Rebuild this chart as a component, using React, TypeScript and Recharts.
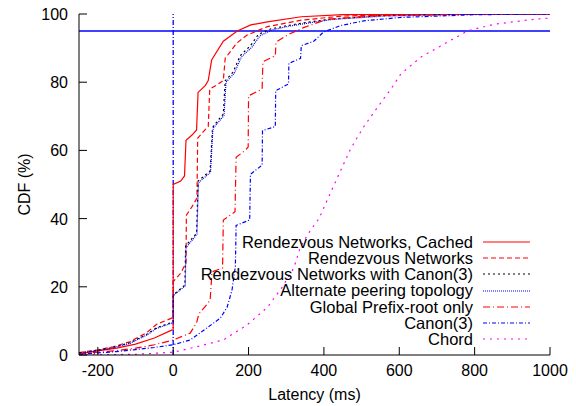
import React from 'react';
import {LineChart, Line, XAxis, YAxis, ReferenceLine, Legend} from 'recharts';

// [latency ms, CDF %]
const cachedPts = [
  [-250, 0.3], [-200, 1.2], [-150, 2], [-100, 3.2], [-50, 5], [-10, 7], [0, 7.5], [0, 50],
  [20, 51], [30, 52.5], [34, 63], [50, 64.5], [62, 66], [66, 77], [85, 79], [93, 80.5], [102, 86.5],
  [133, 92], [170, 95], [206, 96.8], [250, 97.7], [340, 99.2], [450, 99.8], [1000, 100],
];
const rendezvousPts = [
  [-250, 0.7], [-200, 1.5], [-160, 2.4], [-115, 3.9], [-71, 6.5], [-44, 9], [0, 11], [0, 21.5],
  [20, 24], [34, 27], [35, 41], [50, 43.5], [63, 46], [65, 63.6], [80, 65.5], [93, 67], [97, 78],
  [120, 79.5], [133, 80.5], [138, 87], [169, 91.5], [196, 93.8], [250, 96.3], [340, 98.2],
  [450, 99.4], [600, 99.8], [1000, 100],
];
const withCanonPts = [
  [-250, 0.6], [-200, 1.4], [-160, 2.2], [-115, 3.6], [-71, 6], [-44, 8], [0, 9.7], [0, 17.6],
  [31, 20.5], [33, 32], [62, 35.7], [66, 51], [98, 54], [104, 66], [106, 67], [133, 70.7],
  [138, 80.4], [159, 83], [178, 87.8], [205, 90.7], [226, 94], [258, 95.6], [302, 96.6],
  [364, 97.7], [418, 98.5], [550, 99.5], [800, 100], [1000, 100],
];
const alternatePts = [
  [-250, 0.5], [-200, 1.3], [-160, 2.1], [-115, 3.4], [-71, 5.8], [-44, 7.8], [0, 9.5], [0, 17.4],
  [32, 20.3], [34, 31.5], [63, 35.4], [67, 50.5], [99, 53.6], [105, 65.6], [107, 66.6], [135, 70.3],
  [140, 80], [162, 82.6], [181, 87.4], [209, 90.3], [230, 93.6], [262, 95.3], [306, 96.4],
  [368, 97.5], [422, 98.4], [560, 99.4], [820, 100], [1000, 100],
];
const prefixRootPts = [
  [-250, 0.3], [-200, 0.8], [-150, 1.3], [-100, 2], [-50, 3], [0, 4.4], [45, 6.4], [62, 9.4],
  [68, 12], [98, 16], [103, 24.4], [131, 25.5], [133, 39.6], [164, 42], [167, 58], [191, 60],
  [199, 61], [200, 76], [236, 78], [238, 86], [271, 87.8], [273, 91.8], [306, 94], [346, 96],
  [409, 98.5], [550, 99.6], [800, 100], [1000, 100],
];
const canonPts = [
  [-250, 0.2], [-200, 0.6], [-150, 1], [-100, 1.6], [-50, 2.2], [0, 3], [45, 4.4], [89, 7.9],
  [125, 10.8], [143, 14], [156, 19], [165, 26], [167, 38], [203, 39.6], [205, 53], [236, 55.7],
  [237, 65.8], [271, 67], [272, 77.5], [306, 79.5], [307, 85.5], [338, 87], [340, 90.7],
  [373, 92], [399, 94.7], [444, 96.6], [506, 98], [605, 99], [800, 99.8], [1000, 100],
];
const chordPts = [
  [-250, 0], [-100, 0.2], [0, 0.8], [62, 2.4], [133, 4.4], [196, 8.8], [250, 14], [290, 20],
  [320, 25.5], [338, 31.8], [365, 36.7], [387, 40], [409, 45.5], [444, 54], [471, 60.5],
  [506, 67], [551, 74], [578, 78], [604, 82.4], [658, 87.4], [711, 90.7], [782, 95.1],
  [853, 97], [960, 98.5], [1000, 98.8],
];

const xTicks = [-200, 0, 200, 400, 600, 800, 1000];
const yTicks = [0, 20, 40, 60, 80, 100];

const toRows = (pts: number[][]) => pts.map(([lat, cdf]) => ({lat, cdf}));

const series = [
  {name: 'Rendezvous Networks, Cached', pts: cachedPts, color: '#ff0000', dash: undefined},
  {name: 'Rendezvous Networks', pts: rendezvousPts, color: '#ff0000', dash: '5 3'},
  {name: 'Rendezvous Networks with Canon(3)', pts: withCanonPts, color: '#000000', dash: '2 3'},
  {name: 'Alternate peering topology', pts: alternatePts, color: '#0000ff', dash: '1 1'},
  {name: 'Global Prefix-root only', pts: prefixRootPts, color: '#ff0000', dash: '7 3 1 3'},
  {name: 'Canon(3)', pts: canonPts, color: '#0000ff', dash: '4 2 1 2'},
  {name: 'Chord', pts: chordPts, color: '#ff00ff', dash: '2 5'},
];

const font = '"Liberation Sans", Arial, sans-serif';
const ink = '#000';

const BottomTick = ({x, y, payload}: any) => (
  <g>
    <line x1={x} x2={x} y1={y} y2={y - 8} stroke={ink} />
    <text x={x} y={y + 21} textAnchor="middle" fontSize={16} fontFamily={font} fill={ink}>{payload.value}</text>
  </g>
);
const TopTick = ({x, y}: any) => <line x1={x} x2={x} y1={y} y2={y + 8} stroke={ink} />;
const LeftTick = ({x, y, payload}: any) => (
  <g>
    <line x1={x} x2={x + 8} y1={y} y2={y} stroke={ink} />
    <text x={x - 11} y={y + 6} textAnchor="end" fontSize={16} fontFamily={font} fill={ink}>{payload.value}</text>
  </g>
);
const RightTick = ({x, y}: any) => <line x1={x} x2={x - 8} y1={y} y2={y} stroke={ink} />;

const LegendBox = () => (
  <div style={{fontFamily: font, fontSize: 16.5, color: ink}}>
    {series.map(s => (
      <div key={s.name} style={{display: 'flex', justifyContent: 'flex-end', alignItems: 'center', height: 16.3, lineHeight: '16.3px'}}>
        <span style={{whiteSpace: 'nowrap'}}>{s.name}</span>
        <svg width={57} height={16} style={{flex: 'none'}}>
          <line x1={10} x2={57} y1={8} y2={8} stroke={s.color} strokeWidth={1.2} strokeDasharray={s.dash} />
        </svg>
      </div>
    ))}
  </div>
);

export default function App() {
  return (
    <div style={{position: 'absolute', left: 0, top: 0, background: '#fff'}}>
      <LineChart width={576} height={406} margin={{top: 14, right: 26, bottom: 0, left: 0}}>
        <XAxis dataKey="lat" type="number" domain={[-250, 1000]} ticks={xTicks} interval={0}
          allowDataOverflow height={51} tickLine={false} tickSize={0} tickMargin={0} tick={BottomTick}
          axisLine={{stroke: ink}}
          label={({viewBox}: any) => (
            <text x={viewBox.x + viewBox.width / 2} y={viewBox.y + 45} textAnchor="middle" fontSize={16} fontFamily={font} fill={ink}>Latency (ms)</text>
          )} />
        <XAxis xAxisId="top" orientation="top" dataKey="lat" type="number" domain={[-250, 1000]} ticks={xTicks}
          interval={0} allowDataOverflow height={0} tickLine={false} tickSize={0} tickMargin={0} tick={TopTick}
          axisLine={{stroke: ink}} />
        <YAxis type="number" domain={[0, 100]} ticks={yTicks} interval={0} allowDataOverflow width={79}
          tickLine={false} tickSize={0} tickMargin={0} tick={LeftTick} axisLine={{stroke: ink}}
          label={({viewBox}: any) => (
            <text x={30} y={viewBox.y + viewBox.height / 2} transform={`rotate(-90 30 ${viewBox.y + viewBox.height / 2})`}
              textAnchor="middle" fontSize={16} fontFamily={font} fill={ink}>CDF (%)</text>
          )} />
        <YAxis yAxisId="right" orientation="right" type="number" domain={[0, 100]} ticks={yTicks} interval={0}
          allowDataOverflow width={0} tickLine={false} tickSize={0} tickMargin={0} tick={RightTick}
          axisLine={{stroke: ink}} />
        <ReferenceLine x={0} stroke="#0000ff" strokeWidth={1.3} strokeDasharray="5 2 1 2" />
        <ReferenceLine y={95} stroke="#0000ff" strokeWidth={1.5} />
        {series.map(s => (
          <Line key={s.name} name={s.name} data={toRows(s.pts)} dataKey="cdf" type="linear" stroke={s.color}
            strokeWidth={1.2} strokeDasharray={s.dash} dot={false} activeDot={false} isAnimationActive={false} />
        ))}
        <Legend layout="vertical" align="center" verticalAlign="middle"
          wrapperStyle={{left: 150, top: 233.5, width: 380, height: 115}} content={() => <LegendBox />} />
      </LineChart>
    </div>
  );
}
